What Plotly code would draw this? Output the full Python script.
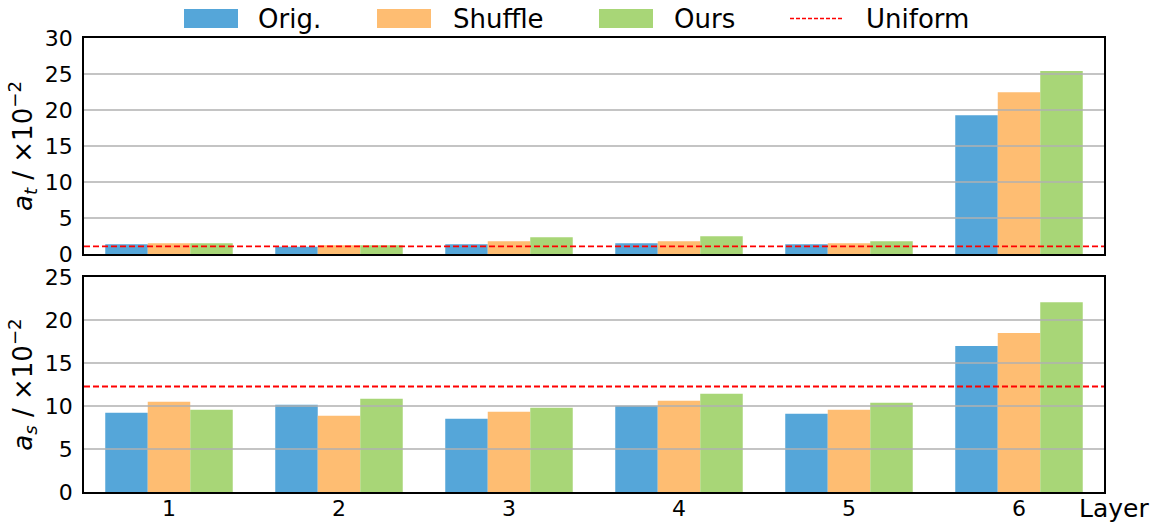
import plotly.graph_objects as go

# ---------------- data ----------------
layers = [1, 2, 3, 4, 5, 6]
series_names = ["Orig.", "Shuffle", "Ours"]
colors = ["#55a6d9", "#febd72", "#a8d677"]
uniform_color = "#ff0000"

at_orig = [1.35, 1.00, 1.35, 1.49, 1.35, 19.26]
at_shuffle = [1.49, 1.20, 1.76, 1.76, 1.49, 22.46]
at_ours = [1.49, 1.20, 2.32, 2.46, 1.76, 25.40]

as_orig = [9.22, 10.15, 8.53, 10.03, 9.10, 16.98]
as_shuffle = [10.50, 8.88, 9.34, 10.61, 9.57, 18.50]
as_ours = [9.57, 10.85, 9.80, 11.42, 10.38, 22.07]

uniform_at = 1.07
uniform_as = 12.27

at_ticks = [0, 5, 10, 15, 20, 25, 30]
as_ticks = [0, 5, 10, 15, 20, 25]

# ---------------- layout geometry (pixels) ----------------
W, H = 1158, 522
ML, MR, MT, MB = 84, 54, 38, 30
PW, PH = W - ML - MR, H - MT - MB
FONT = "DejaVu Sans"


def px_x(px):
    return (px - ML) / PW


def px_y(py):
    return (H - MB - py) / PH


top_domain = [px_y(254), 1.0]
bot_domain = [0.0, px_y(277)]

fig = go.Figure()

top_vals = [at_orig, at_shuffle, at_ours]
bot_vals = [as_orig, as_shuffle, as_ours]
for name, col, tv, bv in zip(series_names, colors, top_vals, bot_vals):
    fig.add_trace(go.Bar(x=layers, y=tv, name=name, marker=dict(color=col, line=dict(width=0)),
                         xaxis="x", yaxis="y", showlegend=False))
    fig.add_trace(go.Bar(x=layers, y=bv, name=name, marker=dict(color=col, line=dict(width=0)),
                         xaxis="x2", yaxis="y2", showlegend=False))

# gridlines drawn above the bars (as in the reference)
shapes = []
for t in at_ticks[1:-1]:
    shapes.append(dict(type="line", xref="x domain", yref="y", x0=0, x1=1, y0=t, y1=t,
                       line=dict(color="#b0b0b0", width=1.5), layer="above"))
for t in as_ticks[1:-1]:
    shapes.append(dict(type="line", xref="x2 domain", yref="y2", x0=0, x1=1, y0=t, y1=t,
                       line=dict(color="#b0b0b0", width=1.5), layer="above"))
# uniform reference lines
shapes.append(dict(type="line", xref="x domain", yref="y", x0=0, x1=1, y0=uniform_at, y1=uniform_at,
                   line=dict(color=uniform_color, width=1.8, dash="6px,3px"), layer="above"))
shapes.append(dict(type="line", xref="x2 domain", yref="y2", x0=0, x1=1, y0=uniform_as, y1=uniform_as,
                   line=dict(color=uniform_color, width=1.8, dash="6px,3px"), layer="above"))

# custom legend (patches + dashed line)
annotations = []
legend_items = [
    ("patch", colors[0], 184, 238, 258, series_names[0]),
    ("patch", colors[1], 377, 431, 453, series_names[1]),
    ("patch", colors[2], 599, 653, 674, series_names[2]),
    ("line", uniform_color, 790, 843, 866, "Uniform"),
]
for kind, col, x0, x1, tx, label in legend_items:
    if kind == "patch":
        shapes.append(dict(type="rect", xref="paper", yref="paper",
                           x0=px_x(x0), x1=px_x(x1), y0=px_y(28), y1=px_y(9),
                           fillcolor=col, line=dict(width=0), layer="above"))
    else:
        shapes.append(dict(type="line", xref="paper", yref="paper",
                           x0=px_x(x0), x1=px_x(x1), y0=px_y(18.5), y1=px_y(18.5),
                           line=dict(color=col, width=1.3, dash="4px,2px"), layer="above"))
    annotations.append(dict(text=label, xref="paper", yref="paper", x=px_x(tx - 2), y=px_y(18.5),
                            xanchor="left", yanchor="middle", showarrow=False,
                            font=dict(family=FONT, size=26, color="black")))

annotations.append(dict(text="Layer", xref="paper", yref="paper", x=px_x(1077), y=px_y(508),
                        xanchor="left", yanchor="middle", showarrow=False,
                        font=dict(family=FONT, size=25, color="black")))

axis_common = dict(showline=True, linecolor="black", linewidth=1.5, mirror=True,
                   showgrid=False, zeroline=False, ticks="", layer="above traces",
                   automargin=False,
                   tickfont=dict(family=FONT, size=22, color="black"))

fig.update_layout(
    width=W, height=H,
    margin=dict(l=ML, r=MR, t=MT, b=MB),
    paper_bgcolor="white", plot_bgcolor="white",
    barmode="group", bargap=0.25, bargroupgap=0.0,
    font=dict(family=FONT, color="black"),
    xaxis=dict(domain=[0, 1], anchor="y", range=[0.5, 6.5], showticklabels=False,
               tickvals=layers, **axis_common),
    yaxis=dict(domain=top_domain, anchor="x", range=[0, 30], tickvals=at_ticks,
               title=dict(text="<i>a<sub>t</sub></i> / ×10<sup>−2</sup>", standoff=5,
                          font=dict(family=FONT, size=26, color="black")),
               ticklabelstandoff=5, **axis_common),
    xaxis2=dict(domain=[0, 1], anchor="y2", range=[0.5, 6.5], tickvals=layers,
                ticktext=[str(v) for v in layers], ticklabelstandoff=-4, **axis_common),
    yaxis2=dict(domain=bot_domain, anchor="x2", range=[0, 25], tickvals=as_ticks,
                title=dict(text="<i>a<sub>s</sub></i> / ×10<sup>−2</sup>", standoff=5,
                           font=dict(family=FONT, size=26, color="black")),
                ticklabelstandoff=5, **axis_common),
    shapes=shapes,
    annotations=annotations,
)

fig.write_html("out.html",
               config={"displayModeBar": False},
               post_script="document.body.style.margin='0';document.body.style.padding='0';"
                           "document.body.style.overflow='hidden';")
